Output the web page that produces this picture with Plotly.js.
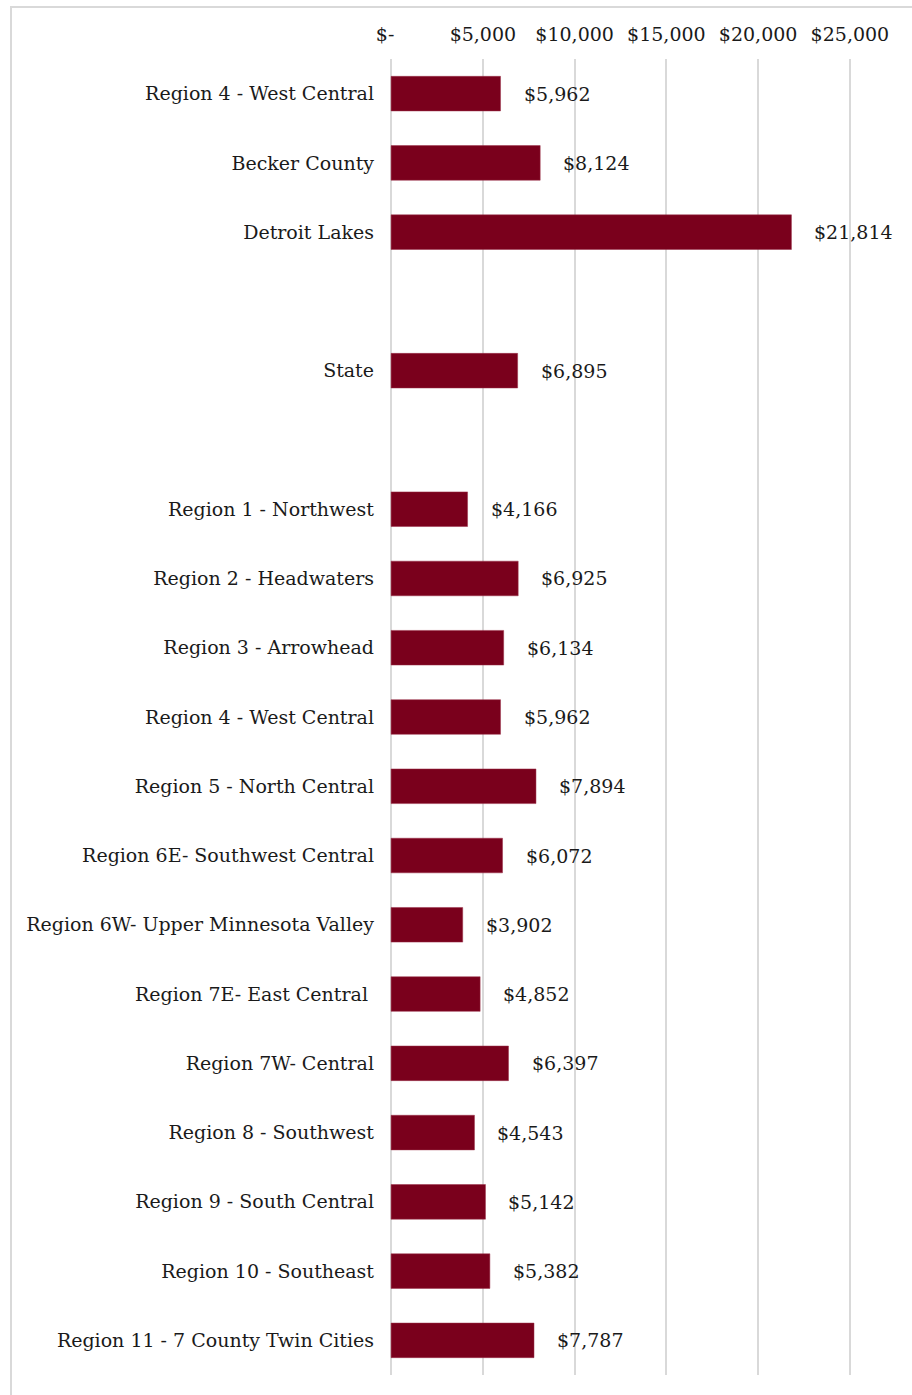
<!DOCTYPE html>
<html>
<head>
<meta charset="utf-8">
<script src="https://cdn.plot.ly/plotly-3.0.1.min.js"></script>
<style>
html,body{margin:0;padding:0;background:#fff;}
#wrap{position:absolute;left:0;top:0;width:912px;height:1395px;}
#frame{position:absolute;left:10px;top:6px;width:910px;height:1400px;border-left:2px solid #d9d9d9;border-top:2px solid #d9d9d9;}
#chart{position:absolute;left:0;top:0;width:912px;height:1395px;}
</style>
</head>
<body>
<div id="wrap"><div id="frame"></div><div id="chart"></div></div>
<script>
const categories = [
  "Region 4 - West Central",
  "Becker County",
  "Detroit Lakes",
  "",
  "State",
  "",
  "Region 1 - Northwest",
  "Region 2 - Headwaters",
  "Region 3 - Arrowhead",
  "Region 4 - West Central",
  "Region 5 - North Central",
  "Region 6E- Southwest Central",
  "Region 6W- Upper Minnesota Valley",
  "Region 7E- East Central\u00a0",
  "Region 7W- Central",
  "Region 8 - Southwest",
  "Region 9 - South Central",
  "Region 10 - Southeast",
  "Region 11 - 7 County Twin Cities"
];
const values = [5962, 8124, 21814, null, 6895, null, 4166, 6925, 6134, 5962, 7894, 6072, 3902, 4852, 6397, 4543, 5142, 5382, 7787];
const xTickVals = [0, 5000, 10000, 15000, 20000, 25000];
const xTickText = ["$-\u00a0\u00a0", "$5,000", "$10,000", "$15,000", "$20,000", "$25,000"];

const positions = categories.map((c, i) => i);
const fmt = v => "$" + v.toLocaleString("en-US");
const FONT = "'DejaVu Serif', 'Liberation Serif', serif";

const trace = {
  type: "bar",
  orientation: "h",
  x: values,
  y: positions,
  marker: {color: "#7a001c", line: {color: "#9a3048", width: 0.5}},
  width: 0.5,
  hoverinfo: "none"
};

const annotations = [];
values.forEach((v, i) => {
  if (v === null) return;
  annotations.push({
    x: v, y: positions[i], xref: "x", yref: "y",
    text: fmt(v), showarrow: false,
    xanchor: "left", yanchor: "middle", xshift: 21,
    font: {family: FONT, size: 19, color: "#1a1a1a"}
  });
});

const layout = {
  width: 912, height: 1395,
  margin: {l: 390, r: 61, t: 59, b: 20, pad: 0},
  paper_bgcolor: "rgba(0,0,0,0)",
  plot_bgcolor: "rgba(0,0,0,0)",
  showlegend: false,
  font: {family: FONT, size: 19, color: "#1a1a1a"},
  xaxis: {
    side: "top",
    range: [-60, 25060],
    tickvals: xTickVals,
    ticktext: xTickText,
    showgrid: true,
    gridcolor: "#d9d9d9",
    gridwidth: 2,
    zeroline: false,
    showline: false,
    ticks: "",
    ticklabelstandoff: 13,
    tickfont: {family: FONT, size: 19, color: "#1a1a1a"},
    fixedrange: true
  },
  yaxis: {
    range: [categories.length - 0.5, -0.5],
    tickvals: positions,
    ticktext: categories,
    showgrid: false,
    zeroline: false,
    showline: false,
    ticks: "",
    ticklabelstandoff: 15,
    tickfont: {family: FONT, size: 19, color: "#1a1a1a"},
    fixedrange: true
  },
  annotations: annotations
};

Plotly.newPlot("chart", [trace], layout, {displayModeBar: false, staticPlot: true});
</script>
</body>
</html>
